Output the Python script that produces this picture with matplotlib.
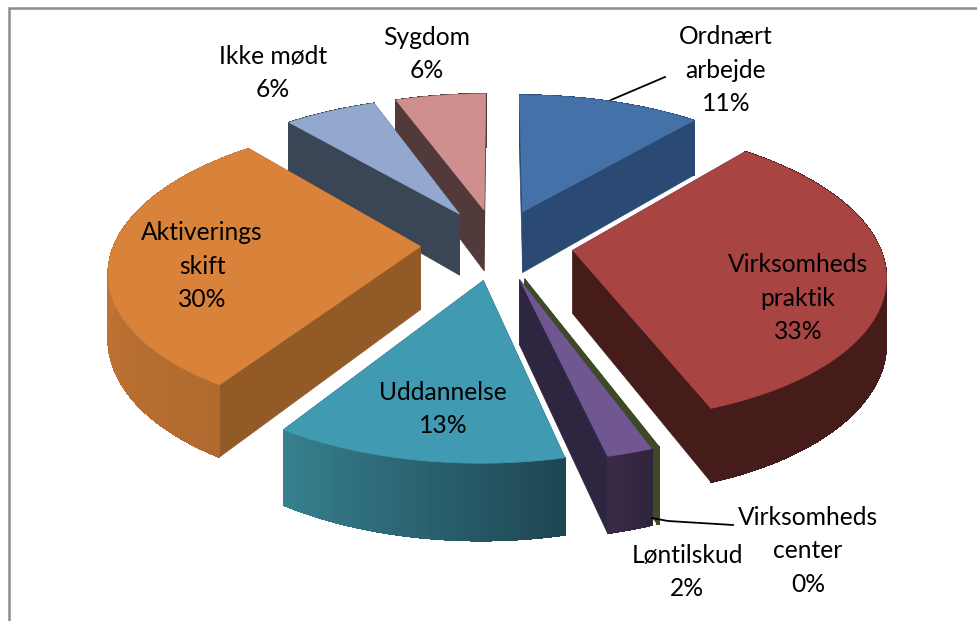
import numpy as np
import matplotlib
matplotlib.use("Agg")
import matplotlib.pyplot as plt
from matplotlib.colors import to_rgb
from matplotlib.patches import Polygon

plt.rcParams["font.family"] = ["Lato", "DejaVu Sans"]

# Values, in pie order (clockwise from 12 o'clock)
names = ["Ordnært\narbejde", "Virksomheds\npraktik", "Virksomheds\ncenter", "Løntilskud",
         "Uddannelse", "Aktiverings\nskift", "Ikke mødt", "Sygdom"]
values = [11.3, 33.0, 0.1, 2.0, 12.7, 29.6, 5.7, 5.6]

top_colors = ["#4472a8", "#a84543", "#3d4a25", "#715792", "#3f9ab2", "#d8823a", "#92a8cf", "#cf8f8f"]
cut_colors = ["#2b4a73", "#451c1a", "#3d4a25", "#2e2540", "#1e4652", "#925a27", "#3a4556", "#533a3a"]
wall_left = ["#2b4a73", "#451c1a", "#3d4a25", "#3a2a48", "#37808f", "#cf7e39", "#3a4556", "#533a3a"]
wall_right = ["#2b4a73", "#451c1a", "#3d4a25", "#30243c", "#1e4652", "#b06a2e", "#3a4556", "#533a3a"]

# back to front
draw_order = [7, 6, 0, 5, 1, 2, 3, 4]

label_pos = [(726, 70), (798, 298), (808, 551), (687, 572), (443, 409), (202, 266), (273, 73), (427, 54)]

# fake 3D view
cx, cy = 497, 244
rx, ry = 306, 143
persp = 0.15
depth = 63
explode = 0.25


def project(x, y, drop=0.0):
    f = 1 / (1 + persp * y)
    return cx + rx * x * f, cy - ry * y * f + drop * depth * f


def slice_points(theta, mid, drop=0.0):
    x = explode * np.sin(mid) + np.sin(theta)
    y = explode * np.cos(mid) + np.cos(theta)
    return project(x, y, drop)


fig = plt.figure(figsize=(9.77, 6.21), dpi=100)
ax = fig.add_axes([0, 0, 1, 1])
ax.set_xlim(0, 977)
ax.set_ylim(621, 0)
ax.axis("off")

# chart frame
ax.plot([8.5, 8.5, 977], [621, 8, 8], color="#8c8c8c", lw=1.8, solid_joinstyle="miter")

edges = np.radians(np.cumsum([0] + values) * 3.6)

for i in draw_order:
    a0, a1 = edges[i], edges[i + 1]
    mid = (a0 + a1) / 2
    ang = np.linspace(a0, a1, 80)
    apex = np.array(project(explode * np.sin(mid), explode * np.cos(mid)))
    apex_low = np.array(project(explode * np.sin(mid), explode * np.cos(mid), 1))

    # cut faces
    for a in (a0, a1):
        p = np.array(slice_points(a, mid))
        q = np.array(slice_points(a, mid, 1))
        ax.add_patch(Polygon([apex, p, q, apex_low], fc=cut_colors[i], ec=cut_colors[i], lw=0.5))

    # outer wall with a gradient running along the rim
    left = np.array(to_rgb(wall_left[i]))
    right = np.array(to_rgb(wall_right[i]))
    for j in range(len(ang) - 1):
        xa, ya = slice_points(ang[j], mid)
        xb, yb = slice_points(ang[j + 1], mid)
        xc, yc = slice_points(ang[j + 1], mid, 1)
        xd, yd = slice_points(ang[j], mid, 1)
        t = j / (len(ang) - 2)
        col = right * (1 - t) + left * t
        ax.add_patch(Polygon([(xa, ya), (xb, yb), (xc, yc), (xd, yd)], fc=col, ec=col, lw=0.6,
                             antialiased=False))

    # top
    xs, ys = slice_points(ang, mid)
    ax.add_patch(Polygon([apex] + list(zip(xs, ys)), fc=top_colors[i], ec=top_colors[i], lw=0.5))

# leader lines
ax.plot([611, 665, 665], [100, 77, 77], color="black", lw=1.3)
ax.plot([652, 668, 733], [518, 521, 525], color="black", lw=1.3)

for name, v, (lx, ly) in zip(names, values, label_pos):
    ax.text(lx, ly, f"{name}\n{round(v)}%", ha="center", va="center", fontsize=17.7,
            color="black", linespacing=1.54)

fig.savefig("out.png", dpi=100)
